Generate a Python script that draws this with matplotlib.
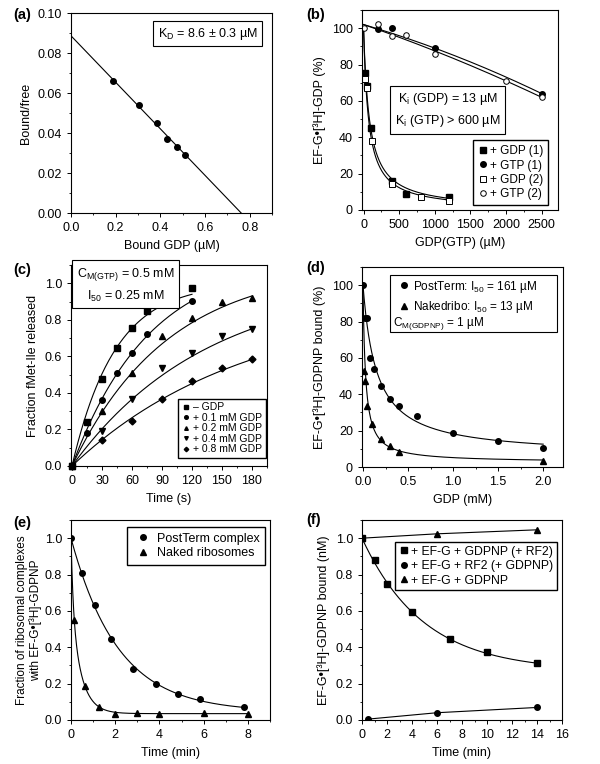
import matplotlib
matplotlib.use("Agg")
import matplotlib.pyplot as plt
import numpy as np
from matplotlib.patches import Rectangle
from matplotlib.ticker import MultipleLocator

plt.rcParams['font.family'] = ['Liberation Sans', 'DejaVu Sans']
plt.rcParams['mathtext.fontset'] = 'custom'
plt.rcParams['mathtext.rm'] = 'Liberation Sans'
plt.rcParams['mathtext.it'] = 'Liberation Sans'
plt.rcParams['font.size'] = 9
plt.rcParams['axes.labelsize'] = 9
plt.rcParams['xtick.labelsize'] = 9
plt.rcParams['ytick.labelsize'] = 9
plt.rcParams['axes.linewidth'] = 0.8
plt.rcParams['xtick.major.size'] = 3
plt.rcParams['ytick.major.size'] = 3
plt.rcParams['xtick.minor.size'] = 1.5
plt.rcParams['ytick.minor.size'] = 1.5
plt.rcParams['xtick.major.width'] = 0.7
plt.rcParams['ytick.major.width'] = 0.7
plt.rcParams['xtick.minor.width'] = 0.6
plt.rcParams['ytick.minor.width'] = 0.6

# (a) Scatchard plot
a_bound = [0.19, 0.305, 0.385, 0.43, 0.475, 0.51]
a_ratio = [0.066, 0.054, 0.045, 0.037, 0.033, 0.029]
a_fit_x = [0.0, 0.762]
a_fit_y = [0.0886, 0.0]

# (b) EF-G GDP exchange
b_gdp1_x = [20, 50, 100, 400, 600, 1200]
b_gdp1_y = [75.5, 68, 45, 16, 9, 7]
b_gtp1_x = [200, 400, 1000, 2500]
b_gtp1_y = [99.6, 100, 89, 64]
b_gdp2_x = [15, 50, 120, 400, 800, 1200]
b_gdp2_y = [72, 67, 38, 14.5, 7, 5]
b_gtp2_x = [0, 200, 400, 600, 1000, 2000, 2500]
b_gtp2_y = [100, 102.2, 95.5, 96, 85.8, 71, 62]
b_gdp_ic = [82, 70]          # hyperbolic fit midpoints
b_gtp_poly = [[102, -0.0115, -1.47e-6], [102, -0.0135, -1.0e-6]]

# (c) fMet-Ile release
c_labels = ['– GDP', '+ 0.1 mM GDP', '+ 0.2 mM GDP', '+ 0.4 mM GDP', '+ 0.8 mM GDP']
c_markers = ['s', 'o', '^', 'v', 'D']
c_t = [[0, 15, 30, 45, 60, 75, 120],
       [0, 15, 30, 45, 60, 75, 120],
       [0, 30, 60, 90, 120, 150, 180],
       [0, 30, 60, 90, 120, 150, 180],
       [0, 30, 60, 90, 120, 150, 180]]
c_y = [[0, 0.243, 0.475, 0.645, 0.755, 0.85, 0.975],
       [0, 0.18, 0.36, 0.51, 0.62, 0.725, 0.905],
       [0, 0.30, 0.51, 0.71, 0.81, 0.895, 0.92],
       [0, 0.19, 0.365, 0.535, 0.62, 0.71, 0.75],
       [0, 0.142, 0.246, 0.367, 0.463, 0.535, 0.584]]
c_amp = [1.0, 1.148, 1.10, 1.02, 0.90]
c_rate = [0.0234, 0.0129, 0.0104, 0.0074, 0.0058]
c_tmax = [120, 120, 180, 180, 180]

# (d) GDP competition
d_post_x = [0, 0.025, 0.05, 0.08, 0.125, 0.2, 0.3, 0.4, 0.6, 1.0, 1.5, 2.0]
d_post_y = [100, 82, 82, 60, 54, 44.8, 37.5, 33.5, 27.8, 18.8, 14.3, 10.6]
d_naked_x = [0.01, 0.02, 0.05, 0.1, 0.2, 0.3, 0.4, 2.0]
d_naked_y = [53, 47.5, 33.3, 23.8, 15.5, 11.3, 8.2, 3.1]
d_fit_base = [6, 2.5]
d_fit_c = [0.15, 0.028]

# (e) dissociation
e_post_t = [0, 0.5, 1.08, 1.83, 2.82, 3.83, 4.83, 5.83, 7.84]
e_post_y = [1.0, 0.81, 0.634, 0.447, 0.283, 0.2, 0.145, 0.113, 0.072]
e_naked_t = [0.15, 0.65, 1.25, 2, 3, 4, 6, 8]
e_naked_y = [0.548, 0.188, 0.073, 0.031, 0.037, 0.031, 0.037, 0.031]

# (f) GDPNP bound
f_sq_t = [0, 1, 2, 4, 7, 10, 14]
f_sq_y = [1.0, 0.878, 0.75, 0.594, 0.446, 0.373, 0.314]
f_ci_t = [0.5, 6, 14]
f_ci_y = [0.005, 0.04, 0.069]
f_tr_t = [0, 6, 14]
f_tr_y = [1.0, 1.024, 1.046]

W, H = 600, 764
fig = plt.figure(figsize=(6, 7.64), dpi=100)


def add_ax(x0, y0, x1, y1):
    return fig.add_axes([x0 / W, 1 - y1 / H, (x1 - x0) / W, (y1 - y0) / H])


lw = 0.8
ms = 4
leg_kw = dict(fancybox=False, edgecolor='black', framealpha=1, borderaxespad=0,
              handletextpad=0.3, handlelength=1.0, labelspacing=0.3, borderpad=0.4)
box_kw = dict(boxstyle='square,pad=0.35', facecolor='white', edgecolor='black', linewidth=0.8)

# ---- (a)
ax = add_ax(71, 13, 272, 213)
ax.plot(a_fit_x, a_fit_y, color='black', lw=lw)
ax.plot(a_bound, a_ratio, 'o', color='black', ms=ms)
ax.set_xlim(0, 0.9)
ax.set_ylim(0, 0.1)
ax.set_xticks(np.arange(0, 0.81, 0.2))
ax.set_xticklabels([f'{v:.1f}' for v in np.arange(0, 0.81, 0.2)])
ax.xaxis.set_minor_locator(MultipleLocator(0.1))
ax.set_yticks(np.arange(0, 0.101, 0.02))
ax.set_yticklabels([f'{v:.2f}' for v in np.arange(0, 0.101, 0.02)])
ax.yaxis.set_minor_locator(MultipleLocator(0.01))
ax.set_xlabel('Bound GDP (µM)')
ax.set_ylabel('Bound/free')
ax.text(0.68, 0.8975, 'K$_\\mathrm{D}$ = 8.6 ± 0.3 µM', transform=ax.transAxes,
        ha='center', va='center', bbox=box_kw)

# ---- (b)
ax = add_ax(362, 10, 558, 210)
xs = np.linspace(0, 1200, 300)
for ic in b_gdp_ic:
    ax.plot(xs, 100 / (1 + xs / ic), color='black', lw=lw)
xs = np.linspace(0, 2500, 200)
for p in b_gtp_poly:
    ax.plot(xs, p[0] + p[1] * xs + p[2] * xs ** 2, color='black', lw=lw)
ax.plot(b_gdp1_x, b_gdp1_y, 's', color='black', ms=ms, label='+ GDP (1)')
ax.plot(b_gtp1_x, b_gtp1_y, 'o', color='black', ms=ms, label='+ GTP (1)')
ax.plot(b_gdp2_x, b_gdp2_y, 's', mfc='white', mec='black', mew=0.7, ms=ms, label='+ GDP (2)')
ax.plot(b_gtp2_x, b_gtp2_y, 'o', mfc='white', mec='black', mew=0.7, ms=ms, label='+ GTP (2)')
ax.set_xlim(-22, 2730)
ax.set_ylim(0, 110)
ax.xaxis.set_major_locator(MultipleLocator(500))
ax.xaxis.set_minor_locator(MultipleLocator(250))
ax.yaxis.set_major_locator(MultipleLocator(20))
ax.yaxis.set_minor_locator(MultipleLocator(10))
ax.set_xlabel('GDP(GTP) (µM)')
ax.set_ylabel('EF-G•[³H]-GDP (%)')
ax.text(0.436, 0.5, 'K$_\\mathrm{i}$ (GDP) = 13 µM\nK$_\\mathrm{i}$ (GTP) > 600 µM',
        transform=ax.transAxes, ha='center', va='center', linespacing=1.6, bbox=box_kw)
ax.legend(loc='lower right', bbox_to_anchor=(0.949, 0.025), fontsize=8.5,
          **dict(leg_kw, labelspacing=0.2, handlelength=0.8, handletextpad=0.2))

# ---- (c)
ax = add_ax(71, 265, 267, 466)
for t, y, m, lab, A, k, tm in zip(c_t, c_y, c_markers, c_labels, c_amp, c_rate, c_tmax):
    ts = np.linspace(0, tm, 200)
    ax.plot(ts, A * (1 - np.exp(-k * ts)), color='black', lw=lw)
    ax.plot(t, y, m, color='black', ms=ms if m != 'D' else 3.5, label=lab, clip_on=False)
ax.set_xlim(-1, 195)
ax.set_ylim(0, 1.1)
ax.xaxis.set_major_locator(MultipleLocator(30))
ax.xaxis.set_minor_locator(MultipleLocator(15))
ax.set_yticks(np.arange(0, 1.01, 0.2))
ax.set_yticklabels([f'{v:.1f}' for v in np.arange(0, 1.01, 0.2)])
ax.yaxis.set_minor_locator(MultipleLocator(0.1))
ax.set_xlabel('Time (s)')
ax.set_ylabel('Fraction fMet-Ile released')
ax.text(0.278, 0.9, 'C$_\\mathrm{M(GTP)}$ = 0.5 mM\nI$_\\mathrm{50}$ = 0.25 mM',
        transform=ax.transAxes, ha='center', va='center', linespacing=1.5,
        bbox=box_kw, zorder=10)
ax.legend(loc='lower right', bbox_to_anchor=(0.995, 0.04), fontsize=7.5,
          markerscale=0.65, **dict(leg_kw, labelspacing=0.05, handlelength=0.8,
                                   handletextpad=0.3, borderpad=0.35))

# ---- (d)
ax = add_ax(362, 267, 563, 467)
xs = np.linspace(0, 2.0, 600)
for base, c in zip(d_fit_base, d_fit_c):
    ax.plot(xs, base + (100 - base) / (1 + xs / c), color='black', lw=lw)
ax.plot(d_post_x, d_post_y, 'o', color='black', ms=ms, label='PostTerm: I$_\\mathrm{50}$ = 161 µM')
ax.plot(d_naked_x, d_naked_y, '^', color='black', ms=ms, label='Nakedribo: I$_\\mathrm{50}$ = 13 µM')
ax.set_xlim(-0.011, 2.22)
ax.set_ylim(0, 110)
ax.set_xticks(np.arange(0, 2.01, 0.5))
ax.set_xticklabels([f'{v:.1f}' for v in np.arange(0, 2.01, 0.5)])
ax.xaxis.set_minor_locator(MultipleLocator(0.25))
ax.yaxis.set_major_locator(MultipleLocator(20))
ax.yaxis.set_minor_locator(MultipleLocator(10))
ax.set_xlabel('GDP (mM)')
ax.set_ylabel('EF-G•[³H]-GDPNP bound (%)')
ax.add_patch(Rectangle((0.139, 0.675), 0.831, 0.285, transform=ax.transAxes,
                       facecolor='white', edgecolor='black', lw=0.8, zorder=5))
ax.legend(loc='upper left', bbox_to_anchor=(0.17, 0.96), frameon=False, fontsize=8.5,
          borderaxespad=0, handletextpad=0.3, handlelength=0.8, labelspacing=0.35,
          borderpad=0.3).set_zorder(6)
ax.text(0.156, 0.72, 'C$_\\mathrm{M(GDPNP)}$ = 1 µM', transform=ax.transAxes,
        ha='left', va='center', fontsize=8.5, zorder=6)

# ---- (e)
ax = add_ax(71, 520, 270, 720)
ts = np.linspace(0, 7.84, 300)
ax.plot(ts, 0.045 + 0.955 * np.exp(-0.47 * ts), color='black', lw=lw)
ts = np.linspace(0, 8, 600)
ax.plot(ts, 0.035 + 0.365 * np.exp(-10 * ts) + 0.6 * np.exp(-2.2 * ts), color='black', lw=lw)
ax.plot(e_post_t, e_post_y, 'o', color='black', ms=ms, label='PostTerm complex')
ax.plot(e_naked_t, e_naked_y, '^', color='black', ms=ms, label='Naked ribosomes')
ax.set_xlim(0, 9)
ax.set_ylim(0, 1.1)
ax.xaxis.set_major_locator(MultipleLocator(2))
ax.xaxis.set_minor_locator(MultipleLocator(1))
ax.set_yticks(np.arange(0, 1.01, 0.2))
ax.set_yticklabels([f'{v:.1f}' for v in np.arange(0, 1.01, 0.2)])
ax.yaxis.set_minor_locator(MultipleLocator(0.1))
ax.set_xlabel('Time (min)')
ax.set_ylabel('Fraction of ribosomal complexes\nwith EF-G•[³H]-GDPNP', fontsize=8.5,
              labelpad=2, linespacing=1.05)
ax.legend(loc='upper right', bbox_to_anchor=(0.975, 0.965), fontsize=9,
          **dict(leg_kw, borderpad=0.45, handlelength=1.6, labelspacing=0.22))

# ---- (f)
ax = add_ax(362, 520, 562, 720)
ts = np.linspace(0, 14, 300)
ax.plot(ts, 0.27 + 0.73 * np.exp(-0.203 * ts), color='black', lw=lw)
ax.plot(f_ci_t, f_ci_y, '-', color='black', lw=lw)
ax.plot(f_tr_t, f_tr_y, '-', color='black', lw=lw)
ax.plot(f_sq_t, f_sq_y, 's', color='black', ms=ms, label='+ EF-G + GDPNP (+ RF2)')
ax.plot(f_ci_t, f_ci_y, 'o', color='black', ms=ms, label='+ EF-G + RF2 (+ GDPNP)')
ax.plot(f_tr_t, f_tr_y, '^', color='black', ms=ms, label='+ EF-G + GDPNP')
ax.set_xlim(0, 16)
ax.set_ylim(0, 1.1)
ax.xaxis.set_major_locator(MultipleLocator(2))
ax.xaxis.set_minor_locator(MultipleLocator(1))
ax.set_yticks(np.arange(0, 1.01, 0.2))
ax.set_yticklabels([f'{v:.1f}' for v in np.arange(0, 1.01, 0.2)])
ax.yaxis.set_minor_locator(MultipleLocator(0.1))
ax.set_xlabel('Time (min)')
ax.set_ylabel('EF-G•[³H]-GDPNP bound (nM)')
ax.legend(loc='upper right', bbox_to_anchor=(0.975, 0.89), fontsize=8.8,
          **dict(leg_kw, labelspacing=0.2, handlelength=0.8, handletextpad=0.2, borderpad=0.3))

# panel letters
for lab, px, py in [('(a)', 13, 15), ('(b)', 306, 15), ('(c)', 13, 270),
                    ('(d)', 306, 268), ('(e)', 13, 523), ('(f)', 306, 520)]:
    fig.text(px / W, 1 - py / H, lab, fontsize=10.5, fontweight='bold', ha='left', va='center')

fig.savefig('out.png', dpi=100)
plt.close(fig)
